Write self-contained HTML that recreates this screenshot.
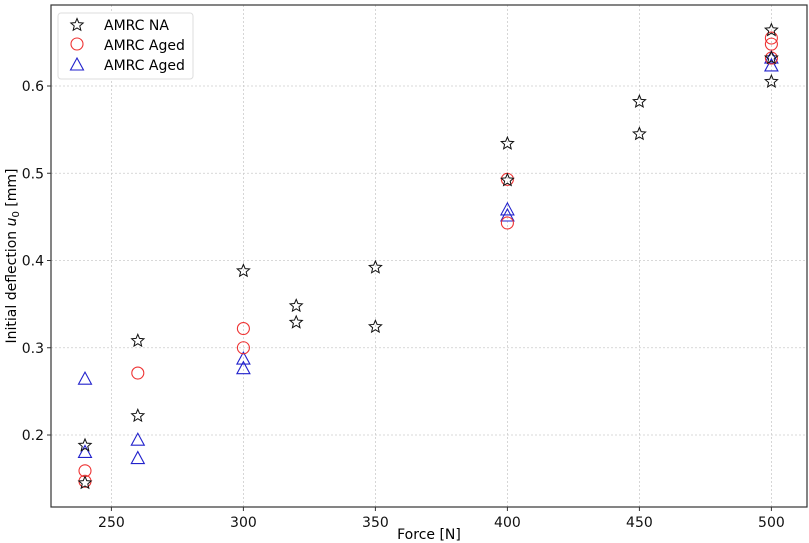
<!DOCTYPE html>
<html><head><meta charset="utf-8"><style>
body{margin:0;background:#fff;}
svg{display:block;font-family:"DejaVu Sans","Liberation Sans",sans-serif;}
</style></head><body>
<svg id="chart" width="809" height="543" viewBox="0 0 809 543" xmlns="http://www.w3.org/2000/svg">
<g id="grid"></g>
<g id="marks"></g>
<rect x="51" y="5" width="756" height="502" fill="none" stroke="#333" stroke-width="1.2"/>
<g id="ticks" font-size="14" fill="#111"></g>
<text x="429" y="539" font-size="14" text-anchor="middle">Force [N]</text>
<text transform="translate(16,256) rotate(-90)" font-size="14" text-anchor="middle">Initial deflection <tspan font-style="italic">u</tspan><tspan font-size="10" dy="3">0</tspan><tspan dy="-3"> [mm]</tspan></text>
<g>
<rect x="58" y="13" width="135" height="66" rx="3" fill="#fff" stroke="#ddd"/>
<g id="legend-icons"></g>
<text x="104" y="30" font-size="14">AMRC NA</text>
<text x="104" y="50" font-size="14">AMRC Aged</text>
<text x="104" y="70" font-size="14">AMRC Aged</text>
</g>
</svg>
<script>
const xTicks=[250,300,350,400,450,500];
const yTicks=[0.2,0.3,0.4,0.5,0.6];
const naX=[240,240,260,260,300,320,320,350,350,400,400,450,450,500,500,500];
const naY=[0.188,0.145,0.308,0.222,0.388,0.348,0.329,0.392,0.324,0.534,0.492,0.582,0.545,0.664,0.605,0.632];
const circX=[240,240,260,300,300,400,400,500,500,500];
const circY=[0.159,0.147,0.271,0.322,0.300,0.493,0.443,0.655,0.648,0.632];
const triX=[240,240,260,260,300,300,400,400,500,500];
const triY=[0.264,0.180,0.194,0.173,0.287,0.276,0.458,0.451,0.632,0.623];
const xs=v=>85+(v-240)*2.64;
const ys=v=>435-(v-0.2)*872.5;
const NS="http://www.w3.org/2000/svg";
function mk(t,a,p){const e=document.createElementNS(NS,t);for(const k in a)e.setAttribute(k,a[k]);p.appendChild(e);return e;}
const grid=document.getElementById('grid'),ticks=document.getElementById('ticks'),marks=document.getElementById('marks');
xTicks.forEach(t=>{const x=xs(t);
 const g=mk('line',{x1:x,x2:x,y1:5,y2:507,stroke:'#ccc','stroke-dasharray':'2,2','stroke-width':0.8},grid);
 
 
 mk('line',{x1:x,x2:x,y1:507,y2:511,stroke:'#333'},ticks);
 const l=mk('text',{x:x,y:527,'text-anchor':'middle'},ticks);l.textContent=t;
 
 });
yTicks.forEach(t=>{const y=ys(t);
 const g=mk('line',{x1:51,x2:807,y1:y,y2:y,stroke:'#ccc','stroke-dasharray':'2,2','stroke-width':0.8},grid);
 
 
 mk('line',{x1:47,x2:51,y1:y,y2:y,stroke:'#333'},ticks);
 const l=mk('text',{x:44,y:y+5,'text-anchor':'end'},ticks);l.textContent=t.toFixed(1);
 
 });
function star(cx,cy,r,p){let d='';for(let i=0;i<10;i++){const rr=i%2?r*0.45:r;const a=-Math.PI/2+i*Math.PI/5;d+=(i?'L':'M')+(cx+rr*Math.cos(a)).toFixed(2)+','+(cy+rr*Math.sin(a)).toFixed(2);}return mk('path',{d:d+'Z',fill:'none',stroke:'#111','stroke-width':1},p);}
function circ(cx,cy,p){return mk('circle',{cx:cx,cy:cy,r:6,fill:'none',stroke:'#e33','stroke-width':1.1},p);}
function tri(cx,cy,p){return mk('path',{d:`M${cx},${cy-7}L${cx+6.5},${cy+5}L${cx-6.5},${cy+5}Z`,fill:'none',stroke:'#22c','stroke-width':1.1},p);}
triX.forEach((v,i)=>{const e=tri(xs(v),ys(triY[i]),marks);
 
 });
circX.forEach((v,i)=>{const e=circ(xs(v),ys(circY[i]),marks);
 
 });
naX.forEach((v,i)=>{const e=star(xs(v),ys(naY[i]),6.5,marks);
 
 });
const li=document.getElementById('legend-icons');
star(77,25,6.5,li);circ(77,44,li);tri(77,65,li);
</script>
</body></html>
